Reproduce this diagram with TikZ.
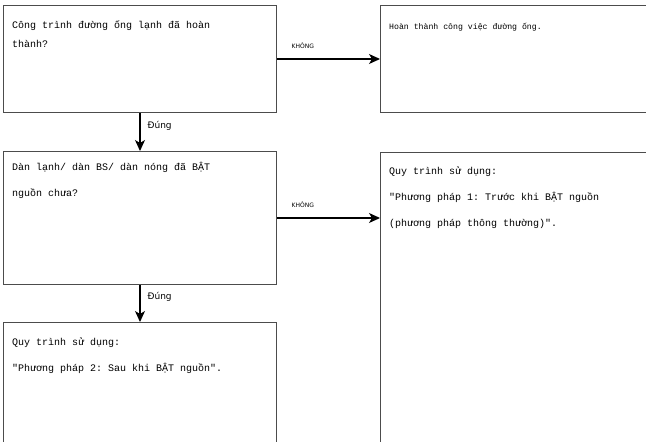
\documentclass[tikz,border=0pt]{standalone}
\usepackage{fontspec}
\setmainfont{DejaVu Sans}
\setmonofont{Liberation Mono}
\usetikzlibrary{arrows.meta}

\begin{document}
\begin{tikzpicture}[x=1pt,y=-1pt,
  stepbox/.style={draw=black!70, line width=1pt, rectangle, inner sep=0pt, anchor=north west},
  boxtext/.style={anchor=north west, inner sep=0pt, align=left, font=\ttfamily\fontsize{10}{26}\selectfont},
  flow/.style={draw=black, line width=1.2pt, -{Stealth[length=11pt,width=10pt,inset=3pt]}},
  yeslabel/.style={font=\fontsize{9}{10}\selectfont, inner sep=0pt},
  nolabel/.style={font=\fontsize{6}{7}\selectfont, inner sep=0pt}]
\useasboundingbox (0,0) rectangle (646,442);
\clip (0,0) rectangle (646,442);

% decision and result boxes
\node[stepbox, minimum width=273pt, minimum height=107pt] (q1) at (3,5) {};
\node[stepbox, minimum width=300pt, minimum height=107pt] (done) at (380,5) {};
\node[stepbox, minimum width=273pt, minimum height=133pt] (q2) at (3,151) {};
\node[stepbox, minimum width=300pt, minimum height=310pt] (m1) at (380,152) {};
\node[stepbox, minimum width=273pt, minimum height=140pt] (m2) at (3,322) {};

% box texts
\node[boxtext, font=\ttfamily\fontsize{10}{19}\selectfont] (t1) at ([shift={(9,16)}]q1.north west)
  {Công trình đường ống lạnh đã hoàn\\thành?};
\node[boxtext, font=\ttfamily\fontsize{8.2}{10}\selectfont] (t2) at ([shift={(9,18)}]done.north west)
  {Hoàn thành công việc đường ống.};
\node[boxtext] (t3) at ([shift={(9,11)}]q2.north west)
  {Dàn lạnh/ dàn BS/ dàn nóng đã BẬT\\nguồn chưa?};
\node[boxtext] (t4) at ([shift={(9,15)}]m1.north west)
  {Quy trình sử dụng:\\"Phương pháp 1: Trước khi BẬT nguồn\\(phương pháp thông thường)".};
\node[boxtext] (t5) at ([shift={(9,16)}]m2.north west)
  {Quy trình sử dụng:\\"Phương pháp 2: Sau khi BẬT nguồn".};

% connectors
\draw[flow] (q1.east) -- node[nolabel, pos=0.25, above=10pt] {KHÔNG} (done.west);
\draw[flow] (q1.south) -- node[yeslabel, pos=0.33, right=7pt] {Đúng} (q2.north);
\draw[flow] (q2.east) -- node[nolabel, pos=0.25, above=10pt] {KHÔNG} (q2.east -| m1.west);
\draw[flow] (q2.south) -- node[yeslabel, pos=0.32, right=7pt] {Đúng} (m2.north);
\end{tikzpicture}
\end{document}
